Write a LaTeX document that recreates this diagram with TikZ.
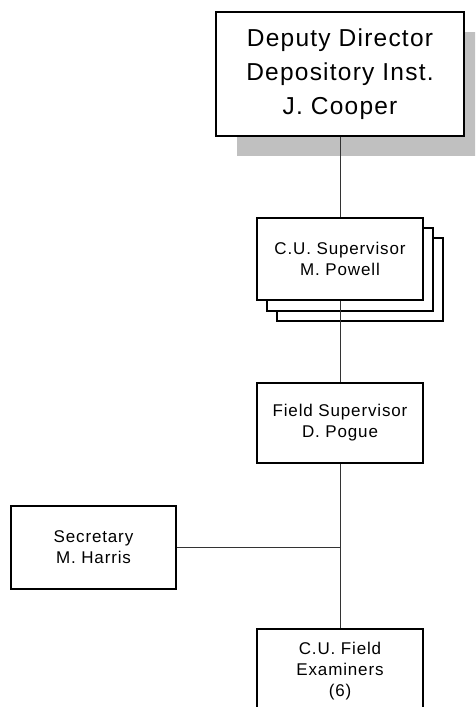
\documentclass[tikz,border=0pt]{standalone}
\usepackage{fontspec}
\newfontfamily\orgfont[LetterSpace=5]{Liberation Sans}
\definecolor{shadowgray}{RGB}{192,192,192}
\begin{document}
\begin{tikzpicture}[x=1pt,y=-1pt,
  orgbox/.style={draw=black, line width=1.1pt, fill=white, align=center,
    inner sep=0pt, font=\orgfont\fontsize{17}{21}\selectfont,
    minimum width=166pt, minimum height=82pt},
  bigbox/.style={orgbox, font=\orgfont\fontsize{24.5}{34}\selectfont,
    minimum width=248pt, minimum height=124pt},
  link/.style={draw=black!80, line width=0.7pt}]
\useasboundingbox (0,0) rectangle (475,707);
\clip (0,0) rectangle (475,707);

% director with drop shadow
\fill[shadowgray] (237,32) rectangle (476,156);
\node[bigbox] (dir) at (340,74) {Deputy Director\\Depository Inst.\\J. Cooper};

% stacked supervisor box
\draw[line width=1.1pt, fill=white] (277,238) rectangle (443,321);
\draw[line width=1.1pt, fill=white] (267,228) rectangle (433,311);
\node[orgbox] (cus) at (340,259) {C.U. Supervisor\\M. Powell};

\node[orgbox, minimum height=80pt] (fs) at (340,423) {Field Supervisor\\D. Pogue};
\node[orgbox, minimum width=165pt, minimum height=83pt] (sec) at (93.5,547.5) {Secretary\\M. Harris};
\node[orgbox, minimum height=84pt] (fe) at (340,671) {C.U. Field\\Examiners\\(6)};

\coordinate (j) at (340,547.5);

\draw[link] (dir.south) -- (cus.north);
\draw[link] (cus.south) -- (fs.north);
\draw[link] (fs.south) -- (fe.north);
\draw[link] (sec.east) -- (j);
\end{tikzpicture}
\end{document}
